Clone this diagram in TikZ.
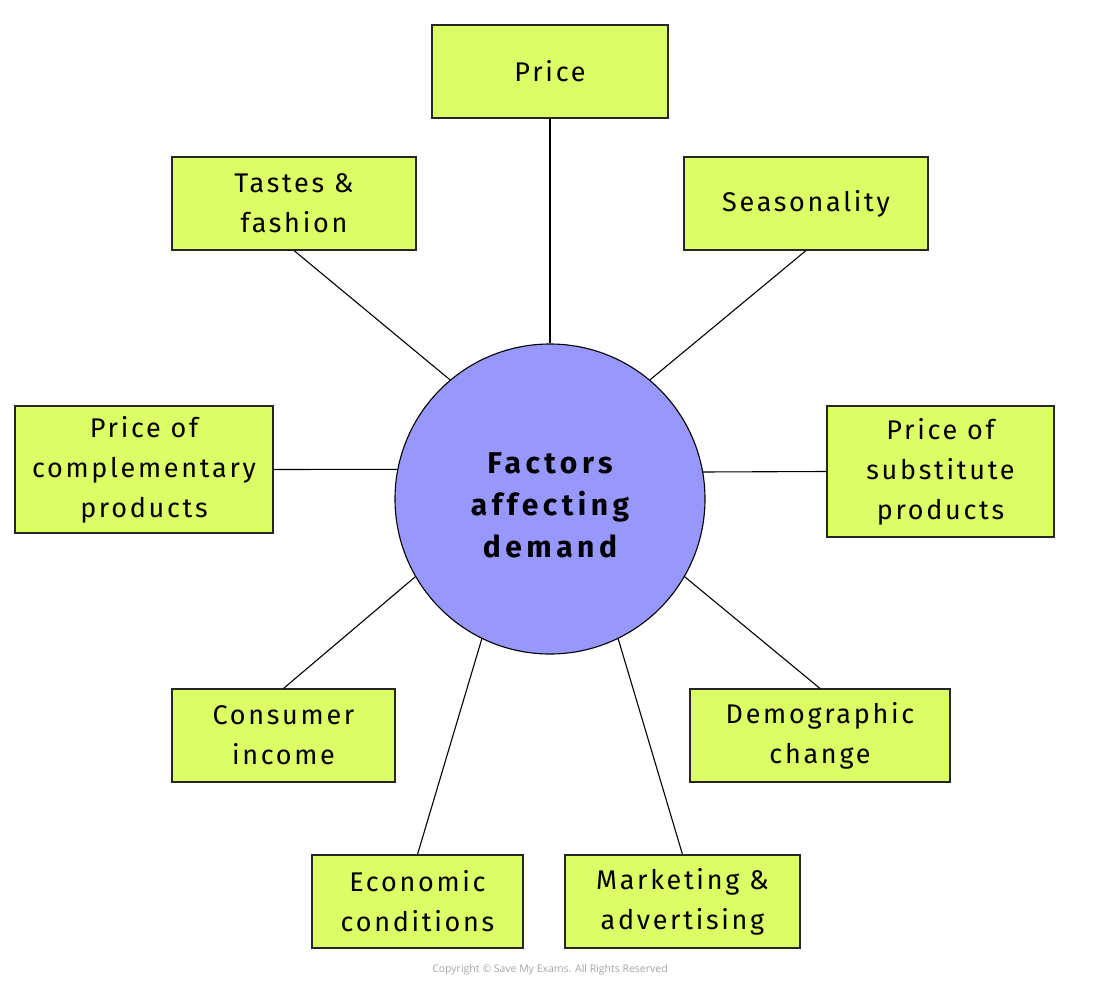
\documentclass[tikz,border=0pt]{standalone}
\usepackage{fontspec}
\setmainfont{Fira Sans}[LetterSpace=10]
\newfontfamily\copyfont{Open Sans}
\definecolor{boxfill}{RGB}{221,253,102}
\definecolor{circfill}{RGB}{151,151,252}
\begin{document}
\begin{tikzpicture}[x=1pt,y=-1pt,
  factor/.style={draw=black!85, line width=1.1pt, fill=boxfill, align=center,
    inner sep=0pt, font=\fontsize{27}{40}\selectfont},
  link/.style={draw=black, line width=1.1pt}]
\useasboundingbox (0,0) rectangle (1100,987);
\fill[white] (0,0) rectangle (1100,987);
% centre
\node[circle, draw=black, line width=1.1pt, fill=circfill, minimum size=310pt,
  inner sep=0pt] (c) at (550,499) {};
\node[align=center, inner sep=0pt,
  font=\fontsize{30}{42}\selectfont\bfseries\addfontfeatures{LetterSpace=15}]
  (ctext) at (550,505) {Factors\\affecting\\demand};
% factors
\node[factor, minimum width=236pt, minimum height=93pt] (price) at (550,71.5) {Price};
\node[factor, minimum width=244pt, minimum height=93pt] (taste) at (294,203.5) {Tastes \&\\fashion};
\node[factor, minimum width=244pt, minimum height=93pt] (season) at (806,203.5) {Seasonality};
\node[factor, minimum width=258pt, minimum height=127pt] (compl) at (144,469.5) {Price of\\complementary\\products};
\node[factor, minimum width=227pt, minimum height=131pt] (subst) at (940.5,471.5) {Price of\\substitute\\products};
\node[factor, minimum width=223pt, minimum height=93pt] (income) at (283.5,735.5) {Consumer\\income};
\node[factor, minimum width=260pt, minimum height=93pt] (demo) at (820,735.5) {Demographic\\change};
\node[factor, minimum width=211pt, minimum height=93pt] (econ) at (417.5,901.5) {Economic\\conditions};
\node[factor, minimum width=235pt, minimum height=93pt] (mkt) at (682.5,901.5) {Marketing \&\\advertising};
% connectors
\draw[link] (price.south) -- (c.90);
\draw[link] (taste.south) -- (c.130);
\draw[link] (season.south) -- (c.50);
\draw[link] (compl.east) -- (c.169);
\draw[link] (subst.west) -- (c.10.2);
\draw[link] (income.north) -- (c.210);
\draw[link] (demo.north) -- (c.330);
\draw[link] (econ.north) -- (c.244);
\draw[link] (mkt.north) -- (c.296);
% copyright
\node[text=black!35, font=\copyfont\fontsize{10.5}{12}\selectfont] (copy) at (550,970)
  {Copyright \textcopyright{} Save My Exams. All Rights Reserved};
\end{tikzpicture}
\end{document}
